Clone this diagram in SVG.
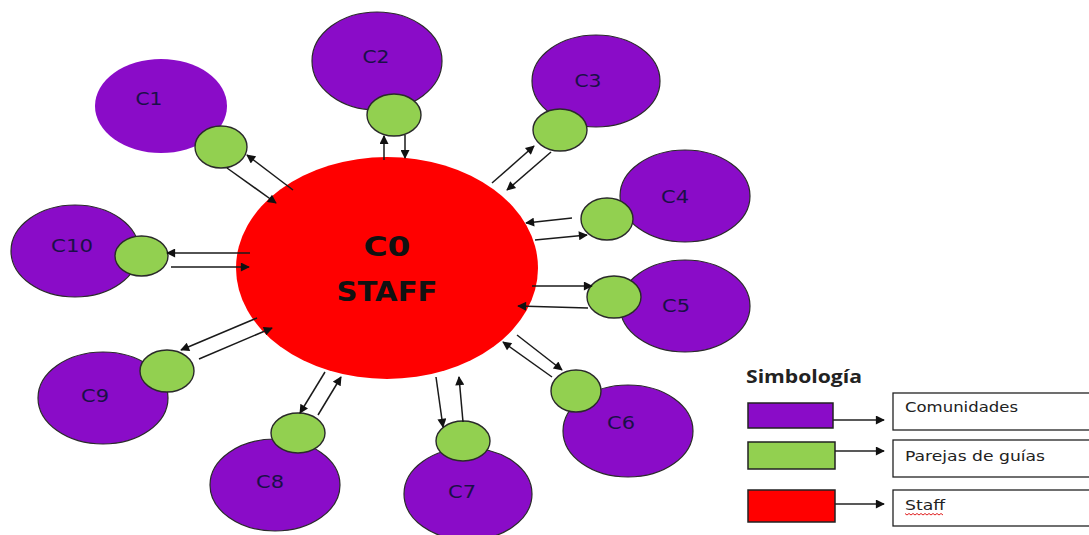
<svg xmlns="http://www.w3.org/2000/svg" width="1089" height="535" viewBox="0 0 1089 535">
  <defs>
    <marker id="ah" viewBox="0 0 10 10" refX="9" refY="5" markerWidth="11" markerHeight="9" markerUnits="userSpaceOnUse" orient="auto">
      <path d="M0,0 L10,5 L0,10 z" fill="#111"/>
    </marker>
  </defs>
  <style>
    .com { fill: #8a0cc8; stroke: #2a2a2a; stroke-width: 1.2; }
    .pair { fill: #92d050; stroke: #2a2a2a; stroke-width: 1.4; }
    .lbl { font-family: "DejaVu Sans", Verdana, sans-serif; font-size: 18px; fill: #1a1048; text-anchor: middle; }
    .core { font-family: "DejaVu Sans", sans-serif; font-weight: bold; font-size: 27px; fill: #111; text-anchor: middle; }
    .link { stroke: #1a1a1a; stroke-width: 1.5; fill: none; marker-end: url(#ah); }
    .key { stroke: #222; stroke-width: 1.5; }
    .box { fill: #fff; stroke: #222; stroke-width: 1.3; }
    .ktxt { font-family: "DejaVu Sans", Verdana, sans-serif; font-size: 14px; fill: #222; }
  </style>

  <rect width="1089" height="535" fill="#fff"/>

  <!-- communities with their guide pairs -->
  <g id="C1">
    <ellipse cx="161" cy="106" rx="66" ry="47" fill="#8a0cc8"/>
    <ellipse class="pair" cx="221" cy="147" rx="26" ry="21"/>
    <text class="lbl" x="149" y="105" textLength="27" lengthAdjust="spacingAndGlyphs">C1</text>
  </g>
  <g id="C2">
    <ellipse class="com" cx="377" cy="61" rx="65" ry="49"/>
    <ellipse class="pair" cx="394" cy="115" rx="27" ry="21"/>
    <text class="lbl" x="376" y="63" textLength="27" lengthAdjust="spacingAndGlyphs">C2</text>
  </g>
  <g id="C3">
    <ellipse class="com" cx="596" cy="81" rx="64" ry="46"/>
    <ellipse class="pair" cx="560" cy="130" rx="27" ry="21"/>
    <text class="lbl" x="588" y="87" textLength="27" lengthAdjust="spacingAndGlyphs">C3</text>
  </g>
  <g id="C4">
    <ellipse class="com" cx="685" cy="196" rx="65" ry="46"/>
    <ellipse class="pair" cx="607" cy="219" rx="26" ry="21"/>
    <text class="lbl" x="675" y="203" textLength="28" lengthAdjust="spacingAndGlyphs">C4</text>
  </g>
  <g id="C5">
    <ellipse class="com" cx="685" cy="306" rx="65" ry="46"/>
    <ellipse class="pair" cx="614" cy="297" rx="27" ry="21"/>
    <text class="lbl" x="676" y="312" textLength="28" lengthAdjust="spacingAndGlyphs">C5</text>
  </g>
  <g id="C6">
    <ellipse class="com" cx="628" cy="431" rx="65" ry="46"/>
    <ellipse class="pair" cx="576" cy="391" rx="25" ry="21"/>
    <text class="lbl" x="621" y="429" textLength="28" lengthAdjust="spacingAndGlyphs">C6</text>
  </g>
  <g id="C7">
    <ellipse class="com" cx="468" cy="494" rx="64" ry="46"/>
    <ellipse class="pair" cx="463" cy="441" rx="27" ry="20"/>
    <text class="lbl" x="462" y="498" textLength="28" lengthAdjust="spacingAndGlyphs">C7</text>
  </g>
  <g id="C8">
    <ellipse class="com" cx="275" cy="485" rx="65" ry="46"/>
    <ellipse class="pair" cx="298" cy="433" rx="27" ry="20"/>
    <text class="lbl" x="270" y="488" textLength="28" lengthAdjust="spacingAndGlyphs">C8</text>
  </g>
  <g id="C9">
    <ellipse class="com" cx="103" cy="398" rx="65" ry="46"/>
    <ellipse class="pair" cx="167" cy="371" rx="27" ry="21"/>
    <text class="lbl" x="95" y="402" textLength="28" lengthAdjust="spacingAndGlyphs">C9</text>
  </g>
  <g id="C10">
    <ellipse class="com" cx="75" cy="251" rx="64" ry="46"/>
    <ellipse class="pair" cx="141.5" cy="256" rx="26.5" ry="20"/>
    <text class="lbl" x="72" y="252" textLength="42" lengthAdjust="spacingAndGlyphs">C10</text>
  </g>

  <!-- central staff node -->
  <g id="C0">
    <ellipse cx="387" cy="268" rx="151" ry="111" fill="#ff0000"/>
    <text class="core" x="387" y="256" textLength="47" lengthAdjust="spacingAndGlyphs">C0</text>
    <text class="core" x="387" y="301" textLength="101" lengthAdjust="spacingAndGlyphs">STAFF</text>
  </g>

  <!-- two-way links between staff and each guide pair -->
  <g id="connectors">
    <line class="link" x1="227" y1="168" x2="276" y2="203"/>
    <line class="link" x1="293" y1="190" x2="247" y2="155"/>
    <line class="link" x1="384" y1="160" x2="384" y2="136"/>
    <line class="link" x1="405" y1="135" x2="405" y2="158"/>
    <line class="link" x1="492" y1="183" x2="534" y2="146"/>
    <line class="link" x1="551" y1="152" x2="507" y2="190"/>
    <line class="link" x1="572" y1="218" x2="526" y2="223"/>
    <line class="link" x1="535" y1="240" x2="587" y2="235"/>
    <line class="link" x1="532" y1="286" x2="592" y2="286"/>
    <line class="link" x1="588" y1="308" x2="518" y2="306"/>
    <line class="link" x1="517" y1="335" x2="562" y2="370"/>
    <line class="link" x1="552" y1="377" x2="503" y2="342"/>
    <line class="link" x1="436" y1="377" x2="443" y2="427"/>
    <line class="link" x1="463" y1="422" x2="459" y2="377"/>
    <line class="link" x1="325" y1="372" x2="300" y2="413"/>
    <line class="link" x1="318" y1="415" x2="341" y2="377"/>
    <line class="link" x1="257" y1="318" x2="181" y2="350"/>
    <line class="link" x1="199" y1="359" x2="272" y2="328"/>
    <line class="link" x1="250" y1="253" x2="167" y2="253"/>
    <line class="link" x1="171" y1="267" x2="249" y2="267"/>
  </g>

  <!-- legend -->
  <g id="legend">
    <text x="746" y="383" font-family="'Open Sans', 'DejaVu Sans', sans-serif" font-weight="bold" font-size="18" fill="#222" textLength="116" lengthAdjust="spacingAndGlyphs">Simbología</text>

    <rect x="748" y="403" width="85" height="25" fill="#8a0cc8" stroke="#222" stroke-width="1.5"/>
    <line class="key" x1="833" y1="420" x2="884" y2="420" marker-end="url(#ah)"/>
    <rect class="box" x="893" y="393" width="200" height="37"/>
    <text class="ktxt" x="905" y="412" textLength="113" lengthAdjust="spacingAndGlyphs">Comunidades</text>

    <rect x="748" y="442" width="87" height="27" fill="#92d050" stroke="#222" stroke-width="1.5"/>
    <line class="key" x1="835" y1="451" x2="884" y2="451" marker-end="url(#ah)"/>
    <rect class="box" x="893" y="440" width="200" height="37"/>
    <text class="ktxt" x="905" y="461" textLength="140" lengthAdjust="spacingAndGlyphs">Parejas de guías</text>

    <rect x="748" y="490" width="87" height="32" fill="#ff0000" stroke="#222" stroke-width="1.5"/>
    <line class="key" x1="835" y1="504" x2="884" y2="504" marker-end="url(#ah)"/>
    <rect class="box" x="893" y="490" width="200" height="36"/>
    <text class="ktxt" x="905" y="510" textLength="40" lengthAdjust="spacingAndGlyphs">Staff</text>
    <path d="M905,513.5 l2,1.5 l2,-1.5 l2,1.5 l2,-1.5 l2,1.5 l2,-1.5 l2,1.5 l2,-1.5 l2,1.5 l2,-1.5 l2,1.5 l2,-1.5 l2,1.5 l2,-1.5 l2,1.5 l2,-1.5 l2,1.5 l2,-1.5 l2,1.5" fill="none" stroke="#e02020" stroke-width="1"/>
  </g>
</svg>
